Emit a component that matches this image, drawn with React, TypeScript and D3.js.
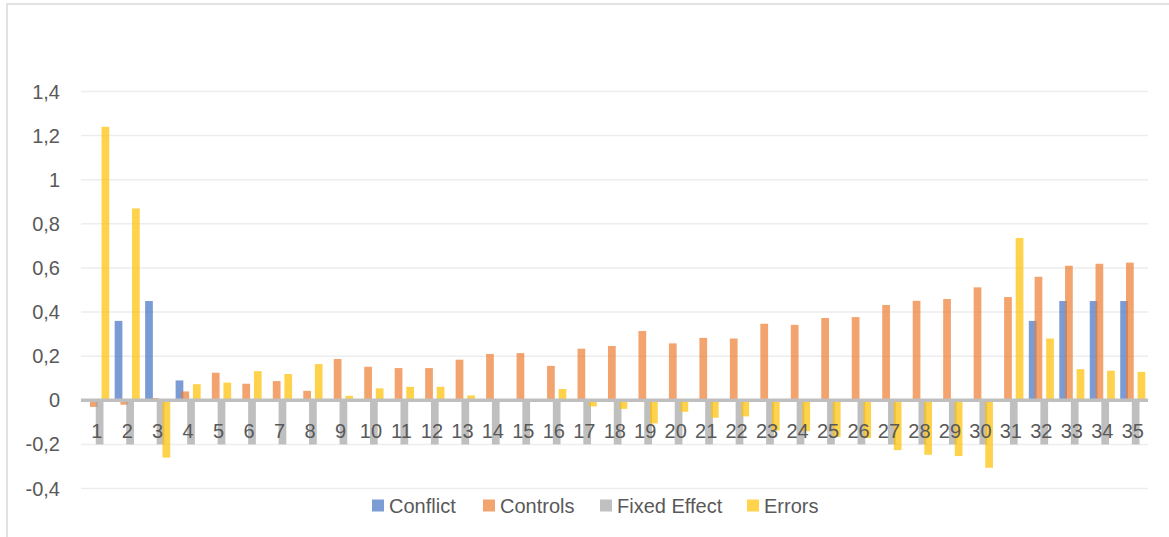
import React from "react";
import * as d3 from "d3";

const categories: string[] = Array.from({ length: 35 }, (_, i) => String(i + 1));

const conflict: number[] = [
  0, 0.36, 0.45, 0.09, 0, 0, 0, 0, 0, 0,
  0, 0, 0, 0, 0, 0, 0, 0, 0, 0,
  0, 0, 0, 0, 0, 0, 0, 0, 0, 0,
  0, 0.36, 0.45, 0.45, 0.45,
];
const controls: number[] = [
  -0.03, -0.02, 0.01, 0.04, 0.125, 0.075, 0.087, 0.043, 0.187, 0.152,
  0.146, 0.146, 0.184, 0.21, 0.214, 0.156, 0.234, 0.246, 0.314, 0.258,
  0.283, 0.28, 0.347, 0.342, 0.373, 0.377, 0.432, 0.451, 0.459, 0.512,
  0.468, 0.56, 0.61, 0.619, 0.624,
];
const fixedEffect: number[] = Array.from({ length: 35 }, () => -0.2);
const errors: number[] = [
  1.24, 0.87, -0.26, 0.073, 0.08, 0.132, 0.119, 0.164, 0.02, 0.054,
  0.061, 0.061, 0.022, 0, 0, 0.051, -0.028, -0.039, -0.105, -0.052,
  -0.079, -0.073, -0.138, -0.14, -0.166, -0.171, -0.226, -0.247, -0.253, -0.306,
  0.736, 0.28, 0.141, 0.134, 0.129,
];

const seriesNames: string[] = ["Conflict", "Controls", "Fixed Effect", "Errors"];
const seriesColors: string[] = ["#4472C4", "#ED7D31", "#A5A5A5", "#FFC000"];
const yTicks: number[] = [1.4, 1.2, 1, 0.8, 0.6, 0.4, 0.2, 0, -0.2, -0.4];

const W = 1169;
const H = 537;
const FONT = "'Liberation Sans', Arial, sans-serif";

export default function App() {
  const allSeries = [conflict, controls, fixedEffect, errors];
  const x = d3.scaleBand<string>().domain(categories).range([81.5, 1148]).padding(0);
  const y = d3.scaleLinear().domain([-0.4, 1.4]).range([488.5, 91.5]);
  const bw = x.bandwidth();
  const overlap = 0.25;
  const gap = 0.7;
  const n = seriesNames.length;
  const b = bw / (n - (n - 1) * overlap + gap);
  const step = b * (1 - overlap);
  const start = (gap * b) / 2;
  const fmt = (v: number) => String(Math.round(v * 10) / 10).replace(".", ",");

  const legendX = [372, 483, 600, 747];

  return (
    <svg width={W} height={H} style={{ position: "absolute", left: 0, top: 0, background: "#fff" }}>
      <rect x={0} y={0} width={W} height={H} fill="#fff" />
      <rect x={7} y={4} width={W + 20} height={H + 20} fill="none" stroke="#D9D9D9" strokeWidth={1.5} />
      {yTicks.map((t) => (
        <g key={t}>
          {t !== 0 && (
            <line x1={81} x2={1148} y1={y(t)} y2={y(t)} stroke="#EDEDED" strokeWidth={1.5} />
          )}
          <text
            x={60}
            y={y(t)}
            textAnchor="end"
            dominantBaseline="central"
            fontFamily={FONT}
            fontSize={20}
            fill="#595959"
          >
            {fmt(t)}
          </text>
        </g>
      ))}
      {allSeries.map((vals, si) => (
        <g key={seriesNames[si]} opacity={0.7}>
          {vals.map((v, i) => {
            if (v === 0) return null;
            const x0 = (x(categories[i]) as number) + start + si * step;
            const y0 = y(Math.max(0, v));
            const h = Math.abs(y(v) - y(0));
            return <rect key={i} x={x0} y={y0} width={b} height={h} fill={seriesColors[si]} />;
          })}
        </g>
      ))}
      <line x1={81} x2={1148} y1={y(0)} y2={y(0)} stroke="#BFBFBF" strokeWidth={3.5} />
      {categories.map((c) => (
        <text
          key={c}
          x={(x(c) as number) + bw / 2}
          y={431}
          textAnchor="middle"
          dominantBaseline="central"
          fontFamily={FONT}
          fontSize={20}
          fill="#595959"
        >
          {c}
        </text>
      ))}
      {seriesNames.map((s, i) => (
        <g key={s}>
          <rect x={legendX[i]} y={499.5} width={12} height={12} fill={seriesColors[i]} opacity={0.7} />
          <text
            x={legendX[i] + 17}
            y={506}
            dominantBaseline="central"
            fontFamily={FONT}
            fontSize={20}
            fill="#595959"
          >
            {s}
          </text>
        </g>
      ))}
    </svg>
  );
}
